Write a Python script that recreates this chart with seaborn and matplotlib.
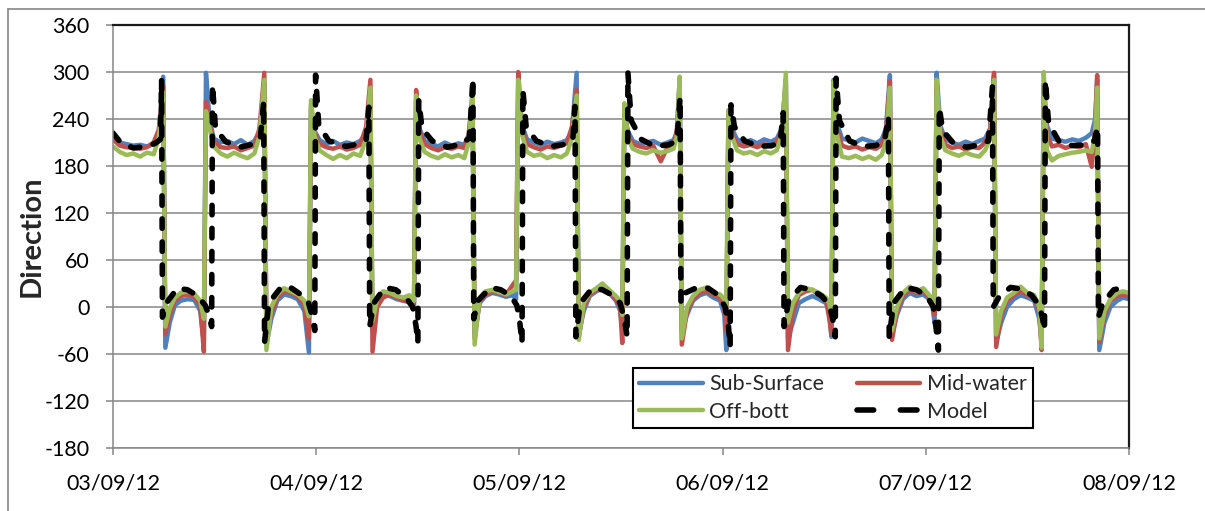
import matplotlib
matplotlib.use("Agg")
import matplotlib.pyplot as plt
from matplotlib.lines import Line2D
import pandas as pd
import seaborn as sns

# ---------------------------------------------------------------------------
# Current direction (degrees) at three depths plus the model, 03/09 - 08/09/12.
# Time is given in hours from 03/09/12 00:00.
# ---------------------------------------------------------------------------
day_labels = ["03/09/12", "04/09/12", "05/09/12", "06/09/12", "07/09/12", "08/09/12"]
day_hours = [0, 24, 48, 72, 96, 120]
y_ticks = [-180, -120, -60, 0, 60, 120, 180, 240, 300, 360]

obs_hours = [
    0.0, 0.8, 1.6, 2.4, 3.2, 4.0, 4.8, 5.4, 5.93, 6.18,
    6.7, 7.3, 8.0, 8.8, 9.6, 10.3, 10.73,
    10.98, 11.4, 11.9, 12.7, 13.5, 14.3, 15.1, 15.9, 16.7, 17.3, 17.87, 18.12,
    18.7, 19.4, 20.2, 21.0, 21.8, 22.6, 23.14,
    23.39, 23.8, 24.4, 25.2, 26.0, 26.8, 27.6, 28.4, 29.2, 29.9, 30.40, 30.65,
    31.2, 31.9, 32.7, 33.5, 34.3, 35.0, 35.55,
    35.80, 36.2, 36.8, 37.6, 38.4, 39.2, 40.0, 40.8, 41.5, 42.0, 42.46, 42.71,
    43.3, 44.0, 44.8, 45.6, 46.4, 47.2, 47.61,
    47.86, 48.3, 48.9, 49.7, 50.5, 51.3, 52.1, 52.9, 53.6, 54.2, 54.76, 55.01,
    55.6, 56.3, 57.1, 57.8, 58.6, 59.4, 59.9, 60.15,
    60.40, 60.8, 61.4, 62.2, 63.0, 63.8, 64.7, 65.5, 66.2, 66.6, 66.93, 67.18,
    67.8, 68.5, 69.3, 70.1, 70.9, 71.7, 72.2, 72.44,
    72.69, 73.1, 73.7, 74.5, 75.3, 76.1, 76.9, 77.7, 78.4, 79.0, 79.47, 79.72,
    80.3, 81.0, 81.8, 82.6, 83.4, 84.2, 84.6, 84.85,
    85.10, 85.5, 86.1, 86.9, 87.7, 88.5, 89.3, 90.1, 90.8, 91.3, 91.76, 92.01,
    92.6, 93.3, 94.1, 94.9, 95.7, 96.4, 96.8, 97.03,
    97.28, 97.7, 98.3, 99.1, 99.9, 100.7, 101.5, 102.3, 103.0, 103.6, 104.06, 104.31,
    104.9, 105.6, 106.4, 107.2, 108.0, 108.8, 109.4, 109.68,
    109.93, 110.3, 110.9, 111.7, 112.5, 113.3, 114.1, 114.9, 115.6, 116.0, 116.24, 116.49,
    117.1, 117.8, 118.6, 119.3, 120.0,
]

sub_surface = [
    216, 210, 208, 206, 207, 205, 208, 222, 294, -52,
    -20, 2, 8, 10, 9, -5, -45,
    299, 240, 215, 210, 212, 208, 213, 207, 212, 224, 286, -48,
    -15, 8, 16, 14, 10, -5, -58,
    252, 225, 213, 208, 212, 207, 210, 208, 212, 222, 270, -30,
    5, 16, 14, 10, 8, 6, 0,
    265, 228, 212, 208, 205, 210, 206, 209, 207, 220, 262, -35,
    5, 14, 18, 16, 13, 15, 10,
    280, 232, 214, 210, 207, 211, 208, 210, 213, 225, 299, -35,
    -5, 14, 20, 24, 18, 8, -5, -30,
    250, 225, 212, 208, 210, 212, 207, 210, 213, 222, 285, -30,
    -10, 8, 15, 18, 12, 8, -10, -55,
    251, 228, 214, 210, 213, 209, 214, 211, 215, 228, 290, -40,
    -20, 5, 10, 14, 10, 5, -5, -38,
    290, 235, 215, 213, 210, 215, 212, 209, 214, 228, 296, -35,
    -10, 10, 18, 14, 16, 10, 0, -20,
    299, 232, 214, 210, 207, 211, 208, 212, 215, 228, 295, -45,
    -20, 0, 10, 15, 12, 8, -15, -45,
    285, 232, 215, 213, 211, 214, 212, 216, 222, 240, 290, -55,
    -20, 0, 8, 12, 10,
]

mid_water = [
    214, 206, 204, 203, 202, 204, 210, 226, 282, -35,
    -10, 8, 14, 16, 13, 2, -57,
    262, 232, 212, 204, 203, 205, 200, 203, 206, 228, 299, -40,
    -8, 12, 20, 18, 14, 2, -40,
    258, 222, 208, 204, 202, 205, 201, 203, 207, 230, 290, -57,
    0, 12, 16, 12, 8, 10, 5,
    277, 225, 208, 203, 200, 204, 202, 205, 203, 218, 273, -40,
    8, 16, 20, 18, 15, 28, 34,
    300, 228, 208, 204, 201, 205, 203, 206, 209, 230, 277, -38,
    0, 16, 22, 28, 20, 10, 0, -46,
    255, 220, 208, 205, 203, 206, 186, 204, 208, 226, 290, -48,
    -5, 10, 18, 20, 16, 12, 0, -30,
    245, 222, 208, 205, 207, 204, 208, 205, 210, 226, 285, -55,
    -5, 15, 20, 22, 15, 10, -15, -35,
    285, 228, 206, 203, 205, 201, 204, 202, 207, 225, 288, -42,
    -5, 14, 22, 18, 20, 12, 5, -10,
    280, 225, 207, 203, 205, 201, 204, 203, 210, 226, 299, -51,
    -10, 8, 15, 20, 15, 12, -5, -55,
    280, 220, 205, 207, 203, 206, 204, 208, 179, 230, 296, -45,
    -10, 8, 14, 15, 14,
]

off_bott = [
    205, 198, 194, 196, 192, 197, 195, 215, 274, -25,
    -2, 12, 18, 20, 17, 8, -15,
    250, 228, 205, 196, 192, 197, 193, 190, 196, 218, 290, -55,
    0, 16, 24, 20, 16, 8, -12,
    264, 218, 200, 194, 189, 194, 190, 196, 193, 215, 280, -18,
    10, 20, 18, 14, 12, 15, 8,
    270, 215, 198, 193, 190, 195, 191, 194, 190, 210, 268, -48,
    12, 20, 22, 19, 16, 20, 22,
    290, 220, 198, 193, 195, 190, 194, 191, 196, 215, 270, -42,
    5, 18, 24, 30, 22, 14, 8, -10,
    260, 215, 202, 198, 196, 200, 197, 199, 202, 218, 294, -40,
    0, 14, 22, 25, 18, 16, 10, 0,
    251, 218, 200, 196, 198, 194, 199, 196, 200, 220, 299, -20,
    5, 18, 24, 22, 18, 12, 5, -10,
    288, 220, 192, 190, 193, 189, 192, 188, 194, 212, 280, -30,
    0, 18, 26, 20, 24, 15, 10, 5,
    290, 218, 200, 196, 193, 197, 194, 192, 200, 215, 290, -35,
    -5, 12, 18, 26, 18, 15, 0, -52,
    300, 200, 187, 193, 195, 197, 198, 200, 198, 220, 280, -40,
    -5, 10, 18, 20, 18,
]

model_hours = [
    0.0, 0.9, 2.4, 4.0, 5.0, 5.6, 5.74, 5.84,
    6.3, 7.6, 8.8, 10.0, 10.9, 11.4, 11.65, 11.75,
    12.1, 13.3, 15.0, 16.6, 17.4, 17.80, 17.90,
    18.4, 19.9, 21.1, 22.3, 23.1, 23.5, 23.83, 23.93,
    24.3, 25.5, 27.5, 29.0, 29.9, 30.22, 30.32,
    30.8, 32.1, 33.4, 34.6, 35.4, 35.8, 36.01, 36.11,
    36.5, 37.7, 39.5, 41.2, 42.1, 42.51, 42.61,
    43.1, 44.6, 45.8, 47.0, 47.7, 48.0, 48.31, 48.41,
    48.8, 50.0, 51.8, 53.5, 54.3, 54.57, 54.67,
    55.2, 56.6, 57.8, 59.0, 59.9, 60.4, 60.72, 60.82,
    61.2, 62.4, 64.0, 65.6, 66.6, 66.98, 67.08,
    67.6, 69.0, 70.3, 71.5, 72.3, 72.7, 72.89, 72.99,
    73.4, 74.6, 76.3, 77.8, 78.8, 79.16, 79.26,
    79.8, 81.2, 82.5, 83.7, 84.6, 85.0, 85.31, 85.41,
    85.8, 87.0, 88.5, 90.0, 91.1, 91.58, 91.68,
    92.2, 93.6, 94.9, 96.1, 96.9, 97.25, 97.49, 97.59,
    98.0, 99.2, 100.8, 102.3, 103.4, 103.87, 103.97,
    104.6, 106.0, 107.3, 108.5, 109.4, 109.8, 110.02, 110.12,
    110.5, 111.7, 113.3, 114.8, 115.9, 116.29, 116.39,
    116.9, 118.2, 119.4, 120.0,
]

model_deg = [
    222, 210, 203, 205, 209, 214, 290, -13,
    5, 24, 22, 14, 2, -12, -25, 284,
    228, 211, 204, 208, 216, 262, -45,
    5, 26, 24, 15, 5, -10, -30, 296,
    232, 212, 205, 208, 214, 255, -25,
    5, 25, 22, 12, 0, -25, -46, 264,
    228, 212, 204, 208, 216, 292, -15,
    8, 25, 22, 14, 2, -15, -46, 277,
    230, 212, 205, 208, 213, 256, -38,
    5, 24, 22, 15, 5, -15, -38, 299,
    238, 214, 205, 207, 212, 268, 5,
    18, 25, 24, 15, 0, -25, -51, 258,
    230, 212, 205, 206, 210, 248, -25,
    8, 25, 22, 14, 3, -15, -38, 292,
    238, 212, 205, 206, 210, 243, -38,
    5, 25, 22, 14, 0, -30, -55, 255,
    225, 210, 204, 207, 212, 281, 0,
    12, 25, 23, 15, 2, -15, -30, 290,
    235, 212, 206, 207, 212, 230, -13,
    5, 22, 25, 24,
]

assert len(obs_hours) == len(sub_surface) == len(mid_water) == len(off_bott)
assert len(model_hours) == len(model_deg)

series_names = ["Sub-Surface", "Mid-water", "Off-bott", "Model"]
series_colors = ["#4F81BD", "#C0504D", "#9BBB59", "#000000"]

# ---------------------------------------------------------------------------
sns.set_style("white")
plt.rcParams["font.family"] = ["Lato", "DejaVu Sans"]
plt.rcParams["axes.unicode_minus"] = False

W, H = 1205, 511
fig = plt.figure(figsize=(W / 100, H / 100), dpi=100)
ax = fig.add_axes([113 / W, 1 - 448 / H, (1129 - 113) / W, (448 - 25) / H])

obs_frames = [
    pd.DataFrame({"hours": obs_hours, "deg": vals})
    for vals in (sub_surface, mid_water, off_bott)
]
for frame, name, col in zip(obs_frames, series_names[:3], series_colors[:3]):
    sns.lineplot(data=frame, x="hours", y="deg", ax=ax, color=col,
                 linewidth=3.2, estimator=None, sort=False, legend=False,
                 solid_joinstyle="round", solid_capstyle="round")

model_frame = pd.DataFrame({"hours": model_hours, "deg": model_deg})
sns.lineplot(data=model_frame, x="hours", y="deg", ax=ax, color="black",
             linewidth=4.0, estimator=None, sort=False, legend=False,
             linestyle=(0, (1.7, 2.45)), dash_capstyle="round",
             dash_joinstyle="round")

# axes, grid and ticks
grid_col = "#868686"
ax.set_xlim(day_hours[0], day_hours[-1])
ax.set_ylim(y_ticks[0], y_ticks[-1])
ax.set_yticks(y_ticks)
ax.set_xticks(day_hours)
ax.set_xticklabels(day_labels)
ax.yaxis.grid(True, color=grid_col, linewidth=1.1)
ax.xaxis.grid(False)
ax.set_axisbelow(True)

for side in ("left", "bottom"):
    ax.spines[side].set_color(grid_col)
    ax.spines[side].set_linewidth(1.1)
for side in ("top", "right"):
    ax.spines[side].set_color("#1a1a1a")
    ax.spines[side].set_linewidth(1.6)

ax.tick_params(axis="y", direction="out", length=5, width=1.1, color=grid_col,
               labelsize=15.5, pad=12, labelcolor="black", left=True)
ax.tick_params(axis="x", direction="out", length=5, width=1.1, color=grid_col,
               labelsize=15.5, pad=13, labelcolor="black", bottom=True)

ax.set_xlabel("")
ax.set_ylabel("Direction", fontsize=21, fontweight="bold")
ax.yaxis.set_label_coords(-0.067, 0.5)

# legend
handles = [Line2D([], [], color=c, linewidth=3.2) for c in series_colors[:3]]
handles.append(Line2D([], [], color="black", linewidth=4.0,
                      linestyle=(0, (3.0, 4.8)), dash_capstyle="round"))
order = [0, 2, 1, 3]
leg = ax.legend([handles[i] for i in order], [series_names[i] for i in order],
                ncol=2, loc="upper left",
                bbox_to_anchor=((633 - 113) / 1016, (448 - 368) / 423),
                borderaxespad=0, fontsize=15.5, frameon=True, fancybox=False,
                framealpha=1, edgecolor="black", handlelength=2.95,
                handletextpad=0.3, columnspacing=1.5, labelspacing=0.35,
                borderpad=0.3)
leg.get_frame().set_linewidth(1.5)

# outer chart border
fig.add_artist(Line2D([8 / W, 1], [1 - 9 / H, 1 - 9 / H], color=grid_col,
                      linewidth=1.2, transform=fig.transFigure))
fig.add_artist(Line2D([8 / W, 8 / W], [0, 1 - 9 / H], color=grid_col,
                      linewidth=1.2, transform=fig.transFigure))

fig.savefig("out.png", dpi=100, facecolor="white")
